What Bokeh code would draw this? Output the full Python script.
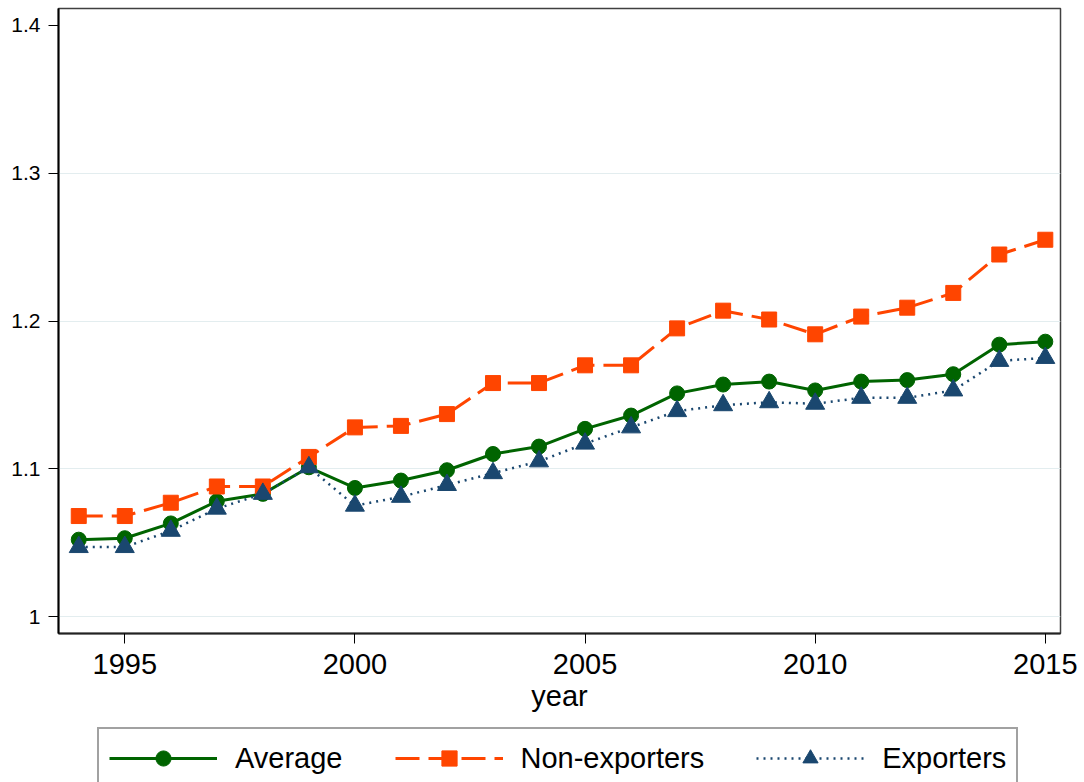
from bokeh.plotting import figure
from bokeh.models import Range1d, FixedTicker, Legend, LegendItem
from bokeh.layouts import column
from bokeh.embed import file_html
from bokeh.resources import INLINE

years = list(range(1994, 2016))
average = [1.052, 1.053, 1.063, 1.078, 1.083, 1.101, 1.087, 1.092, 1.099, 1.110, 1.115,
           1.127, 1.136, 1.151, 1.157, 1.159, 1.153, 1.159, 1.160, 1.164, 1.184, 1.186]
non_exporters = [1.068, 1.068, 1.077, 1.088, 1.088, 1.108, 1.128, 1.129, 1.137, 1.158, 1.158,
                 1.170, 1.170, 1.195, 1.207, 1.201, 1.191, 1.203, 1.209, 1.219, 1.245, 1.255]
exporters = [1.047, 1.047, 1.058, 1.073, 1.083, 1.101, 1.075, 1.081, 1.089, 1.097, 1.105,
             1.117, 1.128, 1.139, 1.143, 1.145, 1.144, 1.148, 1.148, 1.153, 1.173, 1.175]
series_names = ["Average", "Non-exporters", "Exporters"]
x_ticks = [1995, 2000, 2005, 2010, 2015]
y_ticks = [1.0, 1.1, 1.2, 1.3, 1.4]
y_tick_labels = ["1", "1.1", "1.2", "1.3", "1.4"]

FONT = "Liberation Sans"
GREEN = "#006400"
ORANGE = "#FF4500"
NAVY = "#1a476f"

W = 1084
H1 = 726
H2 = 56

p = figure(width=W, height=H1, output_backend="svg", toolbar_location=None,
           x_range=Range1d(1993.56, 2015.33), y_range=Range1d(0.9885, 1.4115),
           min_border_left=58, min_border_right=24, min_border_top=8, min_border_bottom=93)
p.background_fill_color = "white"
p.border_fill_color = "white"
p.outline_line_color = "#404040"
p.outline_line_width = 1.5

# x axis
p.xaxis.ticker = FixedTicker(ticks=x_ticks)
p.xaxis.minor_tick_line_color = None
p.xaxis.major_tick_out = 10
p.xaxis.major_tick_in = 0
p.xaxis.major_tick_line_color = "black"
p.xaxis.axis_line_color = "#222222"
p.xaxis.axis_line_width = 2
p.xaxis.major_label_text_font = FONT
p.xaxis.major_label_text_font_size = "29px"
p.xaxis.major_label_text_color = "black"
p.xaxis.major_label_standoff = 10
p.xaxis.axis_label = "year"
p.xaxis.axis_label_text_font = FONT
p.xaxis.axis_label_text_font_size = "29px"
p.xaxis.axis_label_text_font_style = "normal"
p.xaxis.axis_label_text_color = "black"
p.xaxis.axis_label_standoff = 3

# y axis
p.yaxis.ticker = FixedTicker(ticks=y_ticks)
p.yaxis.major_label_overrides = {t: l for t, l in zip(y_ticks, y_tick_labels)}
p.yaxis.minor_tick_line_color = None
p.yaxis.major_tick_out = 10
p.yaxis.major_tick_in = 0
p.yaxis.major_tick_line_color = "black"
p.yaxis.axis_line_color = "black"
p.yaxis.axis_line_width = 2
p.yaxis.major_label_text_font = FONT
p.yaxis.major_label_text_font_size = "21px"
p.yaxis.major_label_text_color = "black"
p.yaxis.major_label_standoff = 8

# grid
p.xgrid.grid_line_color = None
p.ygrid.ticker = FixedTicker(ticks=y_ticks[:-1])
p.ygrid.grid_line_color = "#e3edef"
p.ygrid.grid_line_width = 1

# series
p.line(years, average, line_color=GREEN, line_width=3)
p.scatter(years, average, marker="circle", size=15, fill_color=GREEN, line_color=GREEN)
p.line(years, non_exporters, line_color=ORANGE, line_width=3, line_dash="24 9")
p.scatter(years, non_exporters, marker="square", size=15, fill_color=ORANGE, line_color=ORANGE)
p.line(years, exporters, line_color=NAVY, line_width=2.5, line_dash="2 5")
p.scatter(years, exporters, marker="triangle", size=19, fill_color=NAVY, line_color=NAVY)

# legend strip: separate figure whose renderers use the same series but lie outside its view
q = figure(width=W, height=H2, output_backend="svg", toolbar_location=None,
           x_range=Range1d(0, 1), y_range=Range1d(0, 1),
           x_axis_location=None, y_axis_location=None,
           min_border_left=0, min_border_right=0, min_border_top=0, min_border_bottom=0)
q.grid.visible = False
q.outline_line_color = None
q.background_fill_color = "white"
q.border_fill_color = "white"

k1 = q.line(years, average, line_color=GREEN, line_width=3)
c1 = q.scatter(years, average, marker="circle", size=15, fill_color=GREEN, line_color=GREEN)
k2 = q.line(years, non_exporters, line_color=ORANGE, line_width=3, line_dash="24 9")
c2 = q.scatter(years, non_exporters, marker="square", size=15, fill_color=ORANGE, line_color=ORANGE)
k3 = q.line(years, exporters, line_color=NAVY, line_width=2.5, line_dash="2 5")
c3 = q.scatter(years, exporters, marker="triangle", size=19, fill_color=NAVY, line_color=NAVY)

legend = Legend(items=[LegendItem(label=series_names[0], renderers=[k1, c1]),
                       LegendItem(label=series_names[1], renderers=[k2, c2]),
                       LegendItem(label=series_names[2], renderers=[k3, c3])],
                orientation="horizontal", location=(39, -7),
                label_text_font=FONT, label_text_font_size="29px", label_text_color="black",
                glyph_width=108, glyph_height=38, label_height=30,
                label_standoff=18, spacing=52, padding=10, margin=0,
                border_line_color="#444444", border_line_width=2,
                background_fill_color="white", background_fill_alpha=1.0)
q.add_layout(legend, "center")

layout = column(p, q, spacing=0)
open("out.html", "w").write(file_html(layout, INLINE))
